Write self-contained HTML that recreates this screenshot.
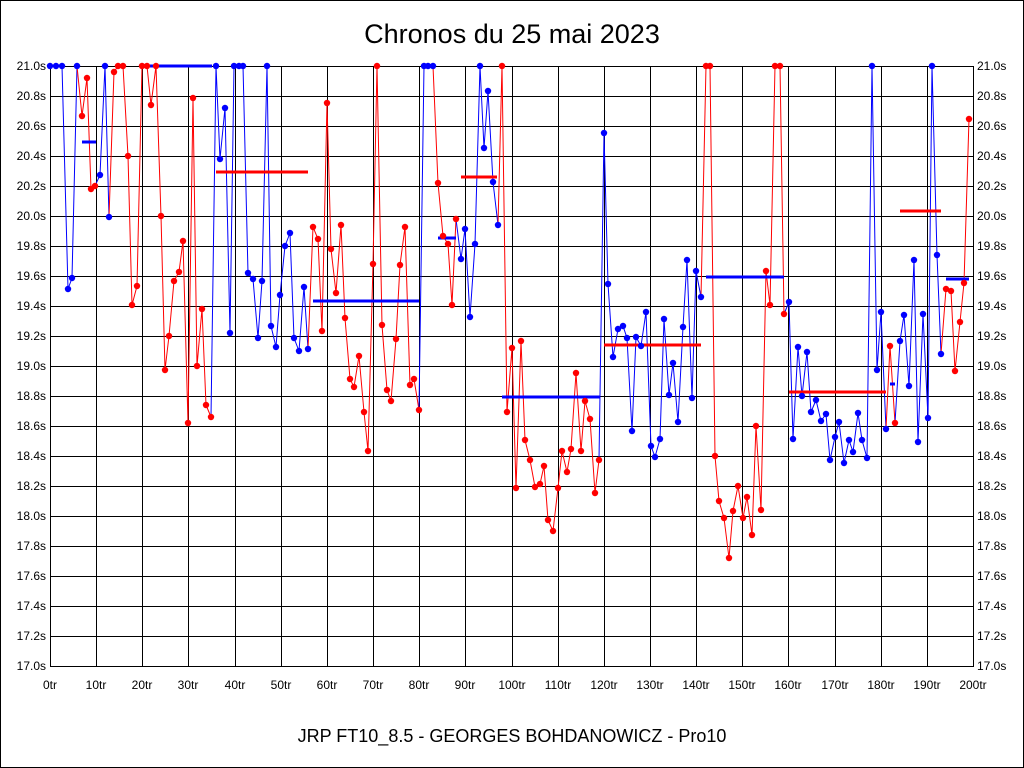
<!DOCTYPE html>
<html><head><meta charset="utf-8"><style>
body{margin:0;background:#fff;}
svg{display:block;font-family:"Liberation Sans",sans-serif;}
</style></head><body>
<svg id="s" width="1024" height="768" xmlns="http://www.w3.org/2000/svg">
<rect x="0.5" y="0.5" width="1023" height="767" fill="#fff" stroke="#000"/>
<text x="512" y="43" font-size="27" text-anchor="middle">Chronos du 25 mai 2023</text>
<text x="512" y="742" font-size="18" text-anchor="middle">JRP FT10_8.5 - GEORGES BOHDANOWICZ - Pro10</text>
<g id="grid" stroke="#000" stroke-width="1"></g>
<g font-size="12" id="ly">
<text x="46" y="70" text-anchor="end">21.0s</text><text x="977" y="70">21.0s</text>
<text x="46" y="100" text-anchor="end">20.8s</text><text x="977" y="100">20.8s</text>
<text x="46" y="130" text-anchor="end">20.6s</text><text x="977" y="130">20.6s</text>
<text x="46" y="160" text-anchor="end">20.4s</text><text x="977" y="160">20.4s</text>
<text x="46" y="190" text-anchor="end">20.2s</text><text x="977" y="190">20.2s</text>
<text x="46" y="220" text-anchor="end">20.0s</text><text x="977" y="220">20.0s</text>
<text x="46" y="250" text-anchor="end">19.8s</text><text x="977" y="250">19.8s</text>
<text x="46" y="280" text-anchor="end">19.6s</text><text x="977" y="280">19.6s</text>
<text x="46" y="310" text-anchor="end">19.4s</text><text x="977" y="310">19.4s</text>
<text x="46" y="340" text-anchor="end">19.2s</text><text x="977" y="340">19.2s</text>
<text x="46" y="370" text-anchor="end">19.0s</text><text x="977" y="370">19.0s</text>
<text x="46" y="400" text-anchor="end">18.8s</text><text x="977" y="400">18.8s</text>
<text x="46" y="430" text-anchor="end">18.6s</text><text x="977" y="430">18.6s</text>
<text x="46" y="460" text-anchor="end">18.4s</text><text x="977" y="460">18.4s</text>
<text x="46" y="490" text-anchor="end">18.2s</text><text x="977" y="490">18.2s</text>
<text x="46" y="520" text-anchor="end">18.0s</text><text x="977" y="520">18.0s</text>
<text x="46" y="550" text-anchor="end">17.8s</text><text x="977" y="550">17.8s</text>
<text x="46" y="580" text-anchor="end">17.6s</text><text x="977" y="580">17.6s</text>
<text x="46" y="610" text-anchor="end">17.4s</text><text x="977" y="610">17.4s</text>
<text x="46" y="640" text-anchor="end">17.2s</text><text x="977" y="640">17.2s</text>
<text x="46" y="670" text-anchor="end">17.0s</text><text x="977" y="670">17.0s</text>
</g>
<g font-size="12" text-anchor="middle">
<text x="50" y="689">0tr</text><text x="96" y="689">10tr</text><text x="142" y="689">20tr</text>
<text x="188" y="689">30tr</text><text x="235" y="689">40tr</text><text x="281" y="689">50tr</text>
<text x="327" y="689">60tr</text><text x="373" y="689">70tr</text><text x="419" y="689">80tr</text>
<text x="465" y="689">90tr</text><text x="512" y="689">100tr</text><text x="558" y="689">110tr</text>
<text x="604" y="689">120tr</text><text x="650" y="689">130tr</text><text x="696" y="689">140tr</text>
<text x="742" y="689">150tr</text><text x="788" y="689">160tr</text><text x="835" y="689">170tr</text>
<text x="881" y="689">180tr</text><text x="927" y="689">190tr</text><text x="973" y="689">200tr</text>
</g>
<g id="data"></g>
</svg>
<script>
var NS="http://www.w3.org/2000/svg",g=document.getElementById("grid"),d=document.getElementById("data");
function el(p,t,a){var e=document.createElementNS(NS,t);for(var k in a)e.setAttribute(k,a[k]);p.appendChild(e);return e;}
for(var i=0;i<=20;i++){var y=66+i*30;el(g,"line",{x1:50,x2:973,y1:y+.5,y2:y+.5});var x=Math.round(50+i*46.15)+.5;el(g,"line",{x1:x,x2:x,y1:66,y2:666});}
el(g,"rect",{x:50.5,y:66.5,width:923,height:600,fill:"none"});
var B="#0000ff",R="#ff0000";
var G=[
[B,[[50,66],[56,66],[62,66],[68,289],[72,278],[77,66]]],
[R,[[82,116],[87,78],[91,189],[95,186]]],
[B,[[100,175],[105,66],[109,217]]],
[R,[[114,72],[118,66],[123,66],[128,156],[132,305],[137,286],[142,66],[147,66],[151,105],[156,66],[161,216],[165,370],[169,336],[174,281],[179,272],[183,241],[188,423],[193,98],[197,366],[202,309],[206,405],[211,417]]],
[B,[[216,66],[220,159],[225,108],[230,333],[234,66],[239,66],[243,66],[248,273],[253,279],[258,338],[262,281],[267,66],[271,326],[276,347],[280,295],[285,246],[290,233],[294,338],[299,351],[304,287],[308,349]]],
[R,[[313,227],[318,239],[322,331],[327,103],[331,249],[336,293],[341,225],[345,318],[350,379],[354,387],[359,356],[364,412],[368,451],[373,264],[377,66],[382,325],[387,390],[391,401],[396,339],[400,265],[405,227],[410,385],[414,379],[419,410]]],
[B,[[424,66],[428,66],[433,66]]],
[R,[[438,183],[443,236],[448,244],[452,305],[456,219]]],
[B,[[461,259],[465,229],[470,317],[475,244],[480,66],[484,148],[488,91],[493,182],[498,225]]],
[R,[[502,66],[507,412],[512,348],[516,488],[521,341],[525,440],[530,460],[535,487],[540,484],[544,466],[548,520],[553,531],[558,488],[562,451],[567,472],[571,449],[576,373],[581,451],[585,401],[590,419],[595,493],[599,460]]],
[B,[[604,133],[608,284],[613,357],[618,329],[623,326],[627,338],[632,431],[636,337],[641,346],[646,312],[651,446],[655,457],[660,439],[664,319],[669,395],[673,363],[678,422],[683,327],[687,260],[692,398],[696,271],[701,297]]],
[R,[[706,66],[710,66],[715,456],[719,501],[724,518],[729,558],[733,511],[738,486],[743,518],[747,497],[752,535],[756,426],[761,510],[766,271],[770,305],[775,66],[780,66],[784,314]]],
[B,[[789,302],[793,439],[798,347],[802,396],[807,352],[811,412],[816,400],[821,421],[826,414],[830,460],[835,437],[839,422],[844,463],[849,440],[853,452],[858,413],[862,440],[867,458],[872,66],[877,370],[881,312],[886,429]]],
[R,[[890,346],[895,423]]],
[B,[[900,341],[904,315],[909,386],[914,260],[918,442],[923,314],[928,418],[932,66],[937,255],[941,354]]],
[R,[[946,289],[951,291],[955,371],[960,322],[964,283],[969,119]]]
];
var prev=null;
G.forEach(function(gr){var pts=(prev?[prev]:[]).concat(gr[1]);el(d,"polyline",{points:pts.map(function(p){return p.join(",")}).join(" "),fill:"none",stroke:gr[0],"stroke-width":1});prev=gr[1][gr[1].length-1];});
var bars=[[B,82,96,142],[B,150,212,66],[R,216,308,172],[B,313,419,301],[B,438,456,238],[R,461,497,177],[B,502,600,397],[R,604,701,345],[B,706,784,277],[R,789,886,392],[B,890,895,384],[R,900,941,211],[B,946,969,279]];
bars.forEach(function(b){el(d,"line",{x1:b[1],x2:b[2],y1:b[3],y2:b[3],stroke:b[0],"stroke-width":3});});
G.forEach(function(gr){gr[1].forEach(function(p){el(d,"circle",{cx:p[0],cy:p[1],r:3.2,fill:gr[0]});});});
</script>
</body></html>
